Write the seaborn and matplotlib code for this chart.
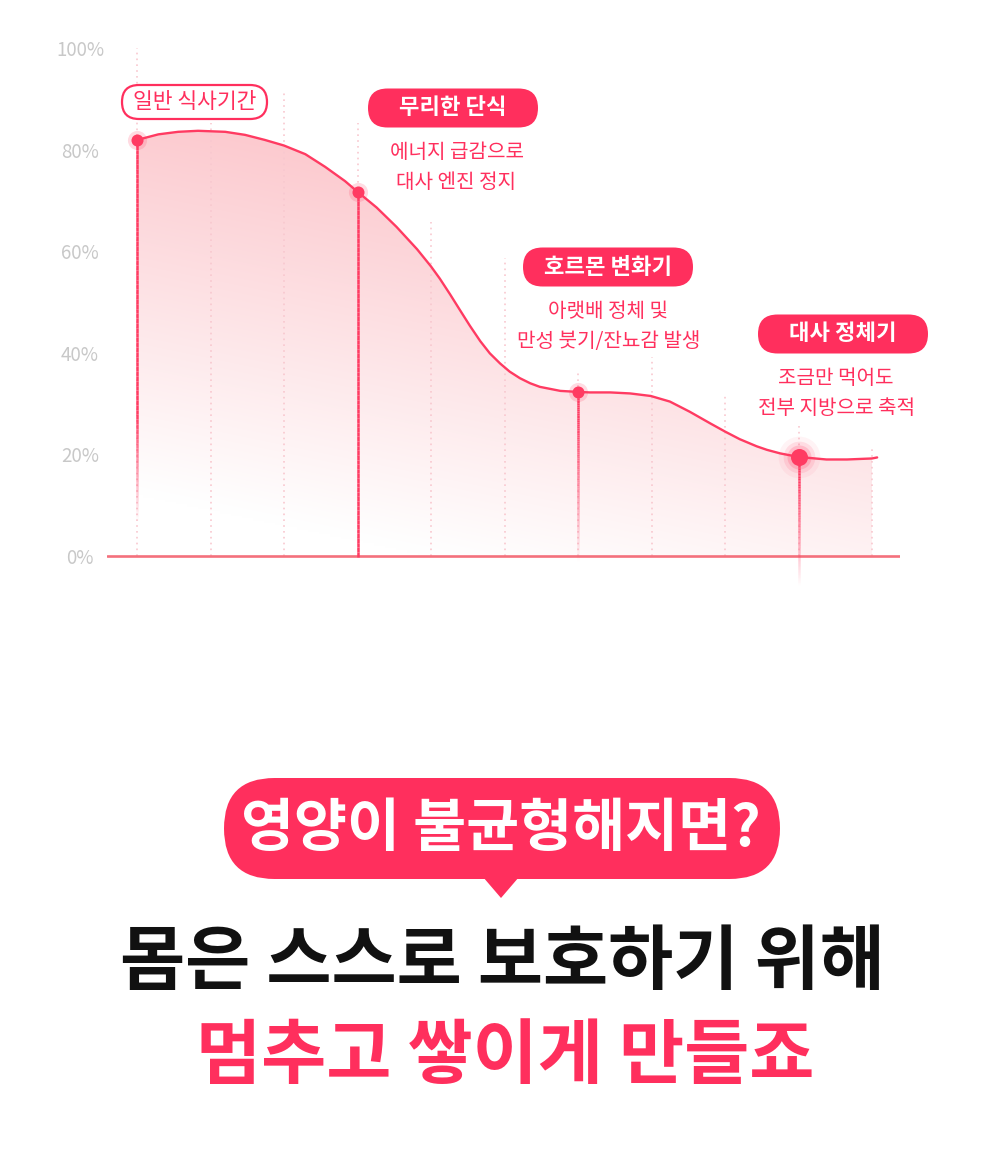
import numpy as np
import matplotlib
matplotlib.use('Agg')
import matplotlib.pyplot as plt
import seaborn as sns
from matplotlib.patches import FancyBboxPatch, Polygon
from matplotlib.collections import LineCollection

# curve (x = grid step, y = %)
curve_x = [0.0, 0.29, 0.56, 0.83, 1.20, 1.47, 1.74, 2.0, 2.29, 2.56, 2.83, 3.0,
           3.26, 3.53, 3.81, 4.0, 4.12, 4.26, 4.39, 4.53, 4.67, 4.80, 4.94,
           5.07, 5.21, 5.35, 5.48, 5.62, 5.76, 6.0, 6.16, 6.44, 6.71, 6.99,
           7.25, 7.52, 7.80, 8.0, 8.20, 8.43, 8.57, 8.75, 9.0, 9.38, 9.66,
           10.0, 10.07]
curve_y = [81.9, 83.0, 83.5, 83.7, 83.5, 82.9, 81.9, 80.8, 79.1, 76.6, 73.8, 71.7,
           68.6, 64.8, 60.4, 57.0, 54.6, 51.5, 48.5, 45.3, 42.3, 39.9, 37.9,
           36.3, 35.0, 34.0, 33.3, 32.9, 32.5, 32.3, 32.2, 32.2, 32.0, 31.5,
           30.4, 28.4, 26.1, 24.5, 23.0, 21.6, 20.9, 20.2, 19.5, 19.0, 19.0,
           19.2, 19.4]

point_x = [0, 3, 6, 9]
point_y = [81.9, 71.7, 32.3, 19.5]

stage_names = ['일반 식사기간', '무리한 단식', '호르몬 변화기', '대사 정체기']
stage_notes = ['', '에너지 급감으로\n대사 엔진 정지',
               '아랫배 정체 및\n만성 붓기/잔뇨감 발생',
               '조금만 먹어도\n전부 지방으로 축적']

grid_x = list(range(11))
grid_top = [100, 85.2, 91.3, 85.2, 65.7, 58.7, 36.6, 39.2, 31.7, 25.8, 21.5]

y_ticks = [0, 20, 40, 60, 80, 100]
y_labels = ['0%', '20%', '40%', '60%', '80%', '100%']

question = '영양이 불균형해지면?'
line1 = '몸은 스스로 보호하기 위해'
line2 = '멈추고 쌓이게 만들죠'

RED = '#ff2f5d'
LINE = '#ff3b62'

sns.set_style('white')
plt.rcParams['font.family'] = ['Noto Sans CJK KR', 'DejaVu Sans']

fig = plt.figure(figsize=(10, 11.66), dpi=100)
H = 1166.0
ax = fig.add_axes([0.107, 1 - 600 / H, 0.793, 570 / H])
ax.set_xlim((107 - 137) / 73.5, (900 - 137) / 73.5)
ax.set_ylim(-(600 - 556) / 5.08, (556 - 30) / 5.08)
sns.despine(ax=ax, left=True, bottom=True)
ax.set_xticks([])
ax.set_yticks(y_ticks)
ax.set_yticklabels(y_labels, color='#c8c8c8', fontsize=13.5)
ax.tick_params(axis='y', length=0, pad=19.4)
for lab in ax.get_yticklabels():
    lab.set_ha('center')

# gradient fill under the curve
n_fill = sum(1 for v in curve_x if v <= 10)
poly = ax.fill_between(curve_x[:n_fill], curve_y[:n_fill], 0,
                       facecolor='none', edgecolor='none')
gx, gy = np.meshgrid(np.linspace(0, 10, 200), np.linspace(0, 90, 200))
t = np.clip((gy + 3.0 * gx - 12) / 75, 0, 1)[..., None]
pink = np.array([252, 202, 207]) / 255
img = (1 - t) * np.ones(3) + t * pink
im = ax.imshow(img, origin='lower', extent=[0, 10, 0, 90], aspect='auto',
               zorder=1, interpolation='bilinear')
im.set_clip_path(poly.get_paths()[0], transform=ax.transData)

# dotted guides
ax.vlines(grid_x, 0, grid_top, colors='#f8c8cf', linestyles=(0, (1, 2.5)),
          lw=1.2, zorder=2)

# baseline
ax.axhline(0, color='#f4707c', lw=1.9, zorder=3)


def fade_line(x, y_top, y_solid, y_end):
    ys = np.linspace(y_top, y_end, 80)
    segs = [[(x, ys[i]), (x, ys[i + 1])] for i in range(len(ys) - 1)]
    mid = (ys[:-1] + ys[1:]) / 2
    alpha = np.clip((mid - y_end) / (y_solid - y_end), 0, 1)
    cols = [matplotlib.colors.to_rgba(LINE, a) for a in alpha]
    ax.add_collection(LineCollection(segs, colors=cols, lw=1.8, zorder=3.5))


fade_line(point_x[0], point_y[0], 28, 7)
fade_line(point_x[1], point_y[1], 0, -0.1)
fade_line(point_x[2], point_y[2], 27, -1)
fade_line(point_x[3], point_y[3], 15, -5.7)

sns.lineplot(x=curve_x, y=curve_y, ax=ax, color=LINE, lw=1.7, sort=False,
             estimator=None, zorder=4)

# markers
sns.scatterplot(x=point_x[:3], y=point_y[:3], ax=ax, s=190, color=LINE,
                alpha=0.18, linewidth=0, zorder=5)
sns.scatterplot(x=point_x[:3], y=point_y[:3], ax=ax, s=75, color=LINE,
                linewidth=0, zorder=6)
for s, a in [(900, 0.06), (520, 0.12), (300, 0.2)]:
    ax.scatter(point_x[3], point_y[3], s=s, color=LINE, alpha=a, linewidth=0,
               zorder=5)
ax.scatter(point_x[3], point_y[3], s=150, color=LINE, linewidth=0, zorder=6)

# overlay in pixel units for labels
ov = fig.add_axes([0, 0, 1, 1], zorder=5)
ov.set_xlim(0, 1000)
ov.set_ylim(H, 0)
ov.axis('off')
ov.patch.set_alpha(0)


def pill(cx, cy, w, h, text, filled):
    box = FancyBboxPatch((cx - w / 2, cy - h / 2), w, h,
                         boxstyle=f'round,pad=0,rounding_size={h / 2}',
                         fc=RED if filled else 'white', ec=RED,
                         lw=0 if filled else 1.6)
    ov.add_patch(box)
    ov.text(cx, cy, text, color='white' if filled else RED, ha='center',
            va='center', fontsize=16 if filled else 15.5,
            fontweight='bold' if filled else 'medium')


pill(194.5, 102, 145, 34, stage_names[0], False)
pill(453, 108, 170, 39, stage_names[1], True)
pill(608, 267, 170, 39, stage_names[2], True)
pill(843, 334, 170, 39, stage_names[3], True)

note_pos = [None, (456.5, 153), (608.5, 311.5), (836, 378.5)]
for note, pos in zip(stage_notes, note_pos):
    if not note:
        continue
    for k, ln in enumerate(note.split('\n')):
        ov.text(pos[0], pos[1] + 29.5 * k, ln, color=RED, ha='center',
                va='center', fontsize=14.5, fontweight='medium')

# speech bubble
bub = FancyBboxPatch((224, 778), 556, 101,
                     boxstyle='round,pad=0,rounding_size=50.5',
                     fc=RED, ec='none')
ov.add_patch(bub)
ov.add_patch(Polygon([(483, 877), (519, 877), (501, 898)], closed=True,
                     fc=RED, ec='none'))
ov.text(501, 829, question, color='white', ha='center', va='center',
        fontsize=41.5, fontweight='bold')

ov.text(502, 963, line1, color='#111111', ha='center', va='center',
        fontsize=51, fontweight='bold')
ov.text(505, 1057, line2, color=RED, ha='center', va='center',
        fontsize=51, fontweight='bold')

fig.savefig('out.png', dpi=100)
